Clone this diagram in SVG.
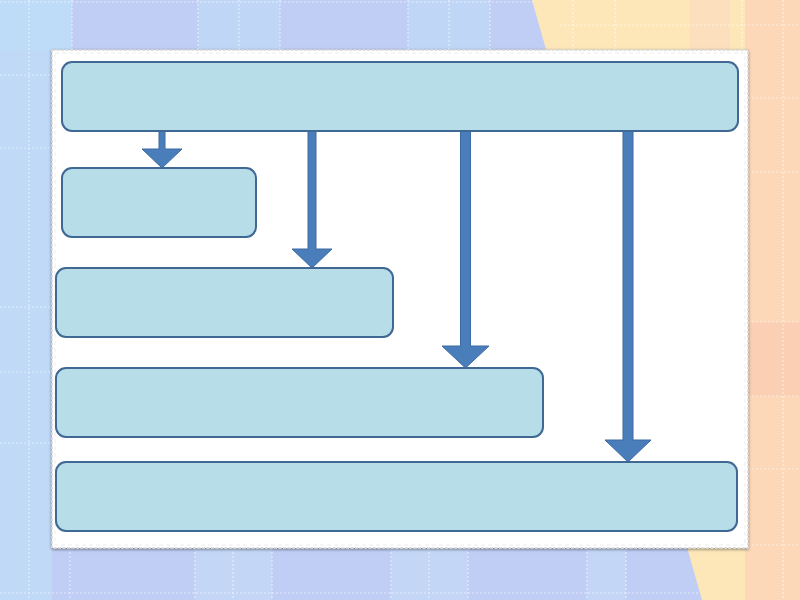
<svg xmlns="http://www.w3.org/2000/svg" width="800" height="600" viewBox="0 0 800 600">
  <defs>
    <style>
      .plaid { stroke: #ffffff; stroke-width: 1.2; stroke-dasharray: 2 2; opacity: 0.55; fill: none; }
      .box { fill: #b7dde8; stroke: #3f6895; stroke-width: 2; }
      .arrow { fill: #4a7ebb; stroke: #3c6aa3; stroke-width: 1; }
    </style>
    <filter id="shadow" x="-5%" y="-5%" width="110%" height="110%">
      <feGaussianBlur in="SourceAlpha" stdDeviation="1.5"/>
      <feOffset dx="0" dy="1" result="b"/>
      <feComponentTransfer><feFuncA type="linear" slope="0.45"/></feComponentTransfer>
      <feMerge><feMergeNode/><feMergeNode in="SourceGraphic"/></feMerge>
    </filter>
  </defs>

  <!-- background -->
  <g id="background">
    <rect x="0" y="0" width="800" height="600" fill="#fde7b8"/>
    <rect x="745" y="0" width="55" height="600" fill="#fcd8b8"/>
    <rect x="745" y="322" width="55" height="74" fill="#fbcfb3"/>
    <rect x="690" y="0" width="40" height="50" fill="#fcdfbc"/>
    <polygon points="0,0 532,0 702,600 0,600" fill="#c0cdf4"/>
    <rect x="0" y="0" width="52" height="600" fill="#c0d9f6"/>
    <rect x="0" y="0" width="72" height="50" fill="#bedcf8"/>
    <rect x="198" y="0" width="82" height="50" fill="#bfd6f6"/>
    <rect x="408" y="0" width="82" height="50" fill="#bfd6f6"/>
    <rect x="195" y="548" width="77" height="52" fill="#c3d6f6"/>
    <rect x="391" y="548" width="77" height="52" fill="#c3d6f6"/>
    <rect x="587" y="548" width="39" height="52" fill="#c3d6f6"/>
    <!-- plaid lines blue -->
    <line class="plaid" x1="29" y1="0" x2="29" y2="600"/>
    <line class="plaid" x1="72" y1="0" x2="72" y2="50"/>
    <line class="plaid" x1="70" y1="548" x2="70" y2="600"/>
    <line class="plaid" x1="198" y1="0" x2="198" y2="50"/>
    <line class="plaid" x1="239" y1="0" x2="239" y2="50"/>
    <line class="plaid" x1="280" y1="0" x2="280" y2="50"/>
    <line class="plaid" x1="408" y1="0" x2="408" y2="50"/>
    <line class="plaid" x1="449" y1="0" x2="449" y2="50"/>
    <line class="plaid" x1="490" y1="0" x2="490" y2="50"/>
    <line class="plaid" x1="195" y1="548" x2="195" y2="600"/>
    <line class="plaid" x1="233" y1="548" x2="233" y2="600"/>
    <line class="plaid" x1="272" y1="548" x2="272" y2="600"/>
    <line class="plaid" x1="391" y1="548" x2="391" y2="600"/>
    <line class="plaid" x1="429" y1="548" x2="429" y2="600"/>
    <line class="plaid" x1="468" y1="548" x2="468" y2="600"/>
    <line class="plaid" x1="587" y1="548" x2="587" y2="600"/>
    <line class="plaid" x1="626" y1="548" x2="626" y2="600"/>
    <line class="plaid" x1="0" y1="2" x2="535" y2="2"/>
    <line class="plaid" x1="0" y1="75" x2="52" y2="75"/>
    <line class="plaid" x1="0" y1="148" x2="52" y2="148"/>
    <line class="plaid" x1="0" y1="307" x2="52" y2="307"/>
    <line class="plaid" x1="0" y1="372" x2="52" y2="372"/>
    <line class="plaid" x1="0" y1="443" x2="52" y2="443"/>
    <line class="plaid" x1="0" y1="593" x2="700" y2="593"/>
    <!-- plaid lines orange -->
    <line class="plaid" x1="560" y1="25" x2="800" y2="25"/>
    <line class="plaid" x1="748" y1="98" x2="800" y2="98"/>
    <line class="plaid" x1="748" y1="172" x2="800" y2="172"/>
    <line class="plaid" x1="748" y1="322" x2="800" y2="322"/>
    <line class="plaid" x1="748" y1="396" x2="800" y2="396"/>
    <line class="plaid" x1="748" y1="469" x2="800" y2="469"/>
    <line class="plaid" x1="748" y1="545" x2="800" y2="545"/>
    <line class="plaid" x1="573" y1="0" x2="573" y2="50"/>
    <line class="plaid" x1="615" y1="0" x2="615" y2="50"/>
    <line class="plaid" x1="742" y1="0" x2="742" y2="50"/>
    <line class="plaid" x1="783" y1="0" x2="783" y2="600"/>
  </g>

  <!-- panel -->
  <g id="panel">
    <rect x="52" y="50" width="696" height="498" fill="#ffffff" stroke="#d6d6d6" stroke-width="1.5" stroke-dasharray="3 1.5" filter="url(#shadow)"/>
    <rect x="55" y="53" width="690" height="492" fill="none" stroke="#ececec" stroke-width="1" stroke-dasharray="4 3"/>
  </g>

  <!-- connectors -->
  <g id="connectors">
    <polygon class="arrow" points="159,131 165,131 165,149 182,149 162,168 142,149 159,149"/>
    <polygon class="arrow" points="308,131 316,131 316,249 332,249 312,268 292,249 308,249"/>
    <polygon class="arrow" points="460.5,131 470.5,131 470.5,346 489,346 465.5,368 442,346 460.5,346"/>
    <polygon class="arrow" points="623,131 633,131 633,440 651,440 628,462 605,440 623,440"/>
  </g>

  <!-- nodes -->
  <g id="node1"><rect class="box" x="62" y="62" width="676" height="69" rx="10"/></g>
  <g id="node2"><rect class="box" x="62" y="168" width="194" height="69" rx="10"/></g>
  <g id="node3"><rect class="box" x="56" y="268" width="337" height="69" rx="10"/></g>
  <g id="node4"><rect class="box" x="56" y="368" width="487" height="69" rx="10"/></g>
  <g id="node5"><rect class="box" x="56" y="462" width="681" height="69" rx="10"/></g>
</svg>
